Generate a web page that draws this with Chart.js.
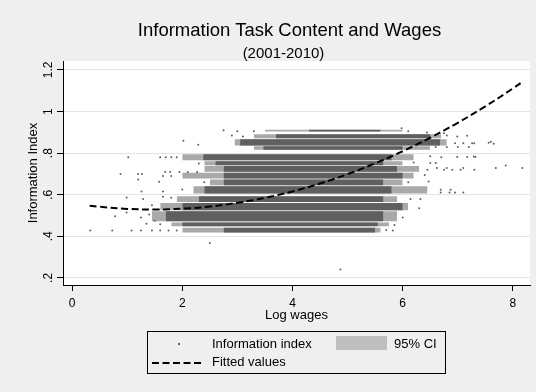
<!DOCTYPE html>
<html><head><meta charset="utf-8">
<script src="https://cdn.jsdelivr.net/npm/chart.js@4/dist/chart.umd.min.js"></script>
<style>
html,body{margin:0;padding:0;background:#efefef;}
#wrap{position:relative;width:536px;height:392px;background:#efefef;font-family:"Liberation Sans",Arial,sans-serif;color:#000;overflow:hidden}
#c{position:absolute;left:0;top:0}
.t{position:absolute;white-space:nowrap}
</style></head><body>
<div id="wrap">
<canvas id="c" width="536" height="392"></canvas>
<div class="t" id="title" style="left:0;width:579px;text-align:center;top:19px;font-size:18.5px;line-height:21px"></div>
<div class="t" id="subtitle" style="left:0;width:567px;text-align:center;top:45px;font-size:15px;line-height:16px"></div>
<div id="legend" style="position:absolute;left:147px;top:331px;width:299px;height:43px;box-sizing:border-box;border:1px solid #000"></div>
<div style="position:absolute;left:178px;top:343px;width:2px;height:2px;background:#5f5f5f"></div>
<div class="t" id="lg0" style="left:212px;top:336px;font-size:13px;line-height:16px"></div>
<div style="position:absolute;left:336px;top:336px;width:51px;height:14px;background:#bebebe"></div>
<div class="t" id="lg1" style="left:394px;top:336px;font-size:13px;line-height:16px"></div>
<svg style="position:absolute;left:151px;top:361px" width="54" height="4"><line x1="1" y1="2" x2="53" y2="2" stroke="#000" stroke-width="2" stroke-dasharray="7 3.5"/></svg>
<div class="t" id="lg2" style="left:212px;top:354px;font-size:13px;line-height:16px"></div>
</div>
<script>
// ---- text ----
const titleText = 'Information Task Content and Wages';
const subtitleText = '(2001-2010)';
const xTitle = 'Log wages';
const yTitle = 'Information Index';
const legendLabels = ['Information index', '95% CI', 'Fitted values'];

// ---- ticks ----
const xTicks = [0, 2, 4, 6, 8];
const yTicks = [0.2, 0.4, 0.6, 0.8, 1.0, 1.2];

// ---- horizontal bands of overlapping observations (information index range) ----
const bandLow    = [0.904, 0.872, 0.837, 0.816, 0.766, 0.742, 0.710, 0.678, 0.646, 0.606, 0.565, 0.526, 0.472, 0.448, 0.419];
const bandHigh   = [0.912, 0.891, 0.867, 0.833, 0.795, 0.761, 0.738, 0.706, 0.673, 0.641, 0.593, 0.560, 0.521, 0.467, 0.441];
// log-wage range where the band is solid
const denseStart = [4.30, 3.70, 3.05, 3.47, 2.38, 2.60, 2.75, 2.75, 2.75, 2.40, 2.30, 2.00, 1.70, 2.00, 2.75];
const denseEnd   = [5.60, 6.50, 6.68, 6.00, 5.80, 5.65, 5.90, 6.00, 5.65, 5.80, 5.65, 6.00, 5.65, 5.55, 5.50];
// log-wage range where the band is still well populated
const sparseStart = [3.50, 3.30, 2.95, 3.30, 2.00, 2.40, 2.40, 2.00, 2.50, 2.20, 1.90, 1.60, 1.45, 1.80, 2.00];
const sparseEnd   = [6.00, 6.70, 6.80, 6.50, 6.20, 6.00, 6.30, 6.20, 6.00, 6.45, 5.90, 6.10, 5.90, 5.75, 5.60];

// ---- individual scattered observations ----
const pointX = [
  0.33,0.73,1.08,1.25,1.45,1.60,1.75,1.90, 5.70,5.82,
  1.60, 5.85,
  0.78,0.99,1.25,1.35,1.50,1.40, 6.00,
  1.45, 6.30,
  0.99,1.29,1.65,1.80, 6.14,6.32,
  1.26,1.65,2.00, 6.69,6.85,6.95,7.10,6.69,6.87,
  1.58,1.20,2.40, 6.10,6.47,
  0.88,1.20,1.27,1.65,1.80, 6.40,
  1.69,1.78,1.95,2.10,2.27, 6.45,6.62,6.75,6.80,6.90,7.05,7.10,7.30,7.69,7.87,8.17,
  2.30, 6.20,6.50,6.60,
  1.02,1.60,1.70,1.80,1.90, 6.50,6.70,6.99,7.17,7.32,7.29,
  6.60,6.80,7.00,7.20,
  2.02,2.29, 6.95,7.10,7.30,7.26,7.56,7.60,7.65,
  2.90,3.10, 6.80,6.99,7.17,
  2.75,3.00,3.30, 6.10,6.44,6.75,5.98,
  2.50,4.87];
const pointY = [
  0.428,0.428,0.428,0.428,0.428,0.428,0.428,0.428, 0.430,0.428,
  0.458, 0.455,
  0.496,0.515,0.490,0.460,0.475,0.505, 0.490,
  0.550, 0.535,
  0.587,0.580,0.590,0.585, 0.580,0.580,
  0.616,0.616,0.625, 0.611,0.611,0.611,0.611,0.624,0.624,
  0.663,0.673,0.660, 0.660,0.664,
  0.700,0.700,0.700,0.690,0.690, 0.695,
  0.709,0.709,0.709,0.709,0.709, 0.720,0.728,0.720,0.728,0.720,0.720,0.728,0.720,0.728,0.740,0.728,
  0.750, 0.755,0.752,0.752,
  0.780,0.780,0.780,0.780,0.780, 0.785,0.780,0.781,0.781,0.781,0.784,
  0.830,0.830,0.830,0.830,
  0.860,0.840, 0.848,0.848,0.848,0.848,0.850,0.855,0.845,
  0.885,0.880, 0.885,0.880,0.883,
  0.910,0.905,0.905, 0.905,0.899,0.896,0.920,
  0.368,0.240];

// ---- fitted values ----
const fitX = [0.32, 0.5, 1.0, 1.5, 2.0, 2.5, 3.0, 3.5, 4.0, 4.5, 5.0, 5.5, 6.0, 6.5, 7.0, 7.5, 8.0, 8.18];
const fitY = [0.547, 0.542, 0.532, 0.529, 0.533, 0.543, 0.561, 0.585, 0.616, 0.654, 0.699, 0.751, 0.809, 0.874, 0.946, 1.025, 1.111, 1.144];

document.getElementById('title').textContent = titleText;
document.getElementById('subtitle').textContent = subtitleText;
document.getElementById('lg0').textContent = legendLabels[0];
document.getElementById('lg1').textContent = legendLabels[1];
document.getElementById('lg2').textContent = legendLabels[2];

const FONT = '"Liberation Sans", Arial, sans-serif';
const DOT = '#5f5f5f';
const SPARSE = '#a9a9a9';

const datasets = [];
datasets.push({
  type: 'line', label: legendLabels[2],
  data: fitX.map((x, i) => ({x, y: fitY[i]})),
  borderColor: '#000', borderWidth: 2, borderDash: [7, 3.5],
  pointRadius: 0, tension: 0.4, fill: false
});
datasets.push({
  type: 'scatter', label: legendLabels[0],
  data: pointX.map((x, i) => ({x, y: pointY[i]})),
  pointRadius: 1, pointBackgroundColor: DOT, pointBorderWidth: 0
});
function addBands(starts, ends, color) {
  bandLow.forEach((lo, i) => {
    datasets.push({
      type: 'line', label: 'band-top',
      data: [{x: starts[i], y: bandHigh[i]}, {x: ends[i], y: bandHigh[i]}],
      borderWidth: 0, pointRadius: 0, fill: false
    });
    datasets.push({
      type: 'line', label: 'band-bottom',
      data: [{x: starts[i], y: lo}, {x: ends[i], y: lo}],
      borderWidth: 0, pointRadius: 0, fill: '-1', backgroundColor: color
    });
  });
}
addBands(denseStart, denseEnd, DOT);      // drawn on top
addBands(sparseStart, sparseEnd, SPARSE); // drawn underneath

const plotBg = {
  id: 'plotBg',
  beforeDraw(chart) {
    const {ctx, chartArea: a} = chart;
    ctx.save();
    ctx.fillStyle = '#fff';
    ctx.fillRect(a.left, a.top, a.right - a.left, a.bottom - a.top);
    ctx.restore();
  }
};

function stataFmt(v) {
  let s = String(+Number(v).toFixed(1));
  if (s.startsWith('0.')) s = s.slice(1);
  return s;
}

new Chart(document.getElementById('c'), {
  type: 'scatter',
  data: {datasets},
  plugins: [plotBg],
  options: {
    responsive: false, animation: false, devicePixelRatio: 1,
    events: [],
    layout: {padding: {left: 20, right: 6, top: 61, bottom: 67}},
    plugins: {legend: {display: false}, tooltip: {enabled: false}, title: {display: false}},
    scales: {
      x: {
        type: 'linear', min: -0.164, max: 8.31,
        afterBuildTicks: s => { s.ticks = xTicks.map(v => ({value: v})); },
        afterFit: s => { s.height = 40; },
        ticks: {font: {family: FONT, size: 12}, color: '#000', padding: 5, maxRotation: 0, autoSkip: false},
        grid: {drawOnChartArea: false, tickLength: 6, tickColor: '#000', tickWidth: 1},
        border: {display: true, color: '#000', width: 1},
        title: {display: true, text: xTitle, color: '#000', font: {family: FONT, size: 13}, padding: {top: 0, bottom: 2}}
      },
      y: {
        type: 'linear', min: 0.166, max: 1.243,
        afterBuildTicks: s => { s.ticks = yTicks.map(v => ({value: v})); },
        afterFit: s => { s.width = 43; },
        ticks: {font: {family: FONT, size: 12}, color: '#000', padding: 0, minRotation: 90, maxRotation: 90, crossAlign: 'center', autoSkip: false,
          callback: v => stataFmt(v)},
        grid: {color: '#e4e4e4', tickColor: '#000', tickLength: 6, lineWidth: 1},
        border: {display: true, color: '#000', width: 1},
        title: {display: true, text: yTitle, color: '#000', font: {family: FONT, size: 13}, padding: {top: 6, bottom: 0}}
      }
    }
  }
});
</script>
</body></html>
